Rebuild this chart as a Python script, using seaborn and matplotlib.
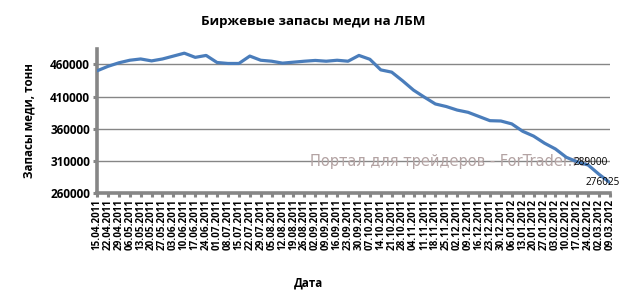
import matplotlib
matplotlib.use("Agg")
import matplotlib.pyplot as plt
import seaborn as sns
import pandas as pd
import numpy as np

dates = ["15.04.2011", "22.04.2011", "29.04.2011", "06.05.2011", "13.05.2011", "20.05.2011",
         "27.05.2011", "03.06.2011", "10.06.2011", "17.06.2011", "24.06.2011", "01.07.2011",
         "08.07.2011", "15.07.2011", "22.07.2011", "29.07.2011", "05.08.2011", "12.08.2011",
         "19.08.2011", "26.08.2011", "02.09.2011", "09.09.2011", "16.09.2011", "23.09.2011",
         "30.09.2011", "07.10.2011", "14.10.2011", "21.10.2011", "28.10.2011", "04.11.2011",
         "11.11.2011", "18.11.2011", "25.11.2011", "02.12.2011", "09.12.2011", "16.12.2011",
         "23.12.2011", "30.12.2011", "06.01.2012", "13.01.2012", "20.01.2012", "27.01.2012",
         "03.02.2012", "10.02.2012", "17.02.2012", "24.02.2012", "02.03.2012", "09.03.2012"]

stocks = [450000, 457000, 462500, 466500, 468500, 465500, 468500, 473000, 477500, 471000,
          474000, 463000, 461500, 461500, 473000, 466500, 465000, 462000, 463500, 465000,
          466200, 465000, 466500, 465000, 474000, 468000, 451500, 448000, 434500, 420000,
          409000, 398500, 394500, 389000, 385500, 379000, 372500, 372000, 367500, 356000,
          348500, 337500, 328500, 315500, 308500, 303500, 289000, 276025]

yticks = [260000, 310000, 360000, 410000, 460000]
labelled = {46: "289000", 47: "276025"}

title = "Биржевые запасы меди на ЛБМ"
ylabel = "Запасы меди, тонн"
xlabel = "Дата"
watermark = "Портал для трейдеров - ForTrader.ru"

sns.set_style("white")
plt.rcParams['font.family'] = ['Open Sans', 'DejaVu Sans']
plt.rcParams['text.color'] = 'black'
plt.rcParams['xtick.labelcolor'] = 'black'
plt.rcParams['ytick.labelcolor'] = 'black'

df = pd.DataFrame({"idx": np.arange(len(dates)), "stock": stocks})

fig = plt.figure(figsize=(6.26, 2.92), dpi=100)
ax = fig.add_axes([97/626, 1-193/292, (610-97)/626, (193-49)/292])

grid_c = "#868686"
for y in yticks[1:]:
    ax.axhline(y, color=grid_c, lw=1.0, zorder=0)

ax.text(0.415, 0.22, watermark, transform=ax.transAxes, fontsize=10.5,
        color="#B3A3A3", family=['DejaVu Sans'], va='center', ha='left', zorder=1,
        clip_on=False)

sns.lineplot(data=df, x="idx", y="stock", ax=ax, color="#4A7DBB", lw=2.3, zorder=3)

for i, txt in labelled.items():
    off = (-6, 8.5) if i == 46 else (-5, 0)
    ax.annotate(txt, (i, stocks[i]), xytext=off, textcoords="offset points",
                ha="center", va="center", fontsize=7.2, color="black", zorder=4,
                annotation_clip=False)

ax.set_xlim(0, len(dates) - 1)
ax.set_ylim(260000, 484000)
ax.set_yticks(yticks)
ax.set_yticklabels([str(v) for v in yticks], fontsize=8.5, fontweight="bold")
ax.set_xticks(np.arange(len(dates)))
ax.set_xticklabels(dates, rotation=90, fontsize=7.1, fontweight="bold")
ax.set_xlabel("")
ax.set_ylabel("")

for s in ["top", "right"]:
    ax.spines[s].set_visible(False)
for s in ["left", "bottom"]:
    ax.spines[s].set_color(grid_c)
    ax.spines[s].set_linewidth(2.6)
ax.tick_params(axis="both", which="both", direction="out", length=3, width=2.2,
               color=grid_c, labelcolor="black", pad=2, left=True, bottom=True)
ax.tick_params(axis="x", pad=1.5)

fig.text(313/626, 1-22/292, title, ha="center", va="center", fontsize=9.6,
         fontweight="bold", color="black")
fig.text(29/626, 1-121/292, ylabel, ha="center", va="center", rotation=90,
         fontsize=8.3, fontweight="bold", color="black")
fig.text(308/626, 1-283/292, xlabel, ha="center", va="center", fontsize=8.3,
         fontweight="bold", color="black")

fig.savefig("out.png", dpi=100)
